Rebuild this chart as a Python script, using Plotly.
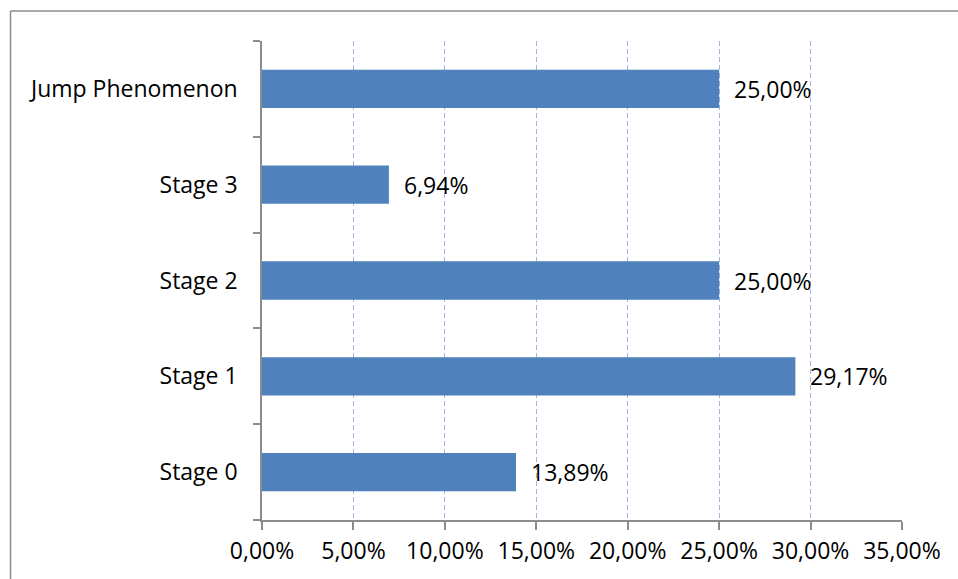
import plotly.graph_objects as go

categories = ["Stage 0", "Stage 1", "Stage 2", "Stage 3", "Jump Phenomenon"]
values = [0.1389, 0.2917, 0.2500, 0.0694, 0.2500]
x_ticks = [0, 0.05, 0.10, 0.15, 0.20, 0.25, 0.30, 0.35]

FONT = "Open Sans, Noto Sans, sans-serif"
FS = 23
labels = [f"{v*100:.2f}".replace(".", ",") + "%" for v in values]

fig = go.Figure()
fig.add_trace(go.Bar(
    x=values, y=categories, orientation="h",
    marker=dict(color="#4f81bd", line=dict(width=0)),
    hoverinfo="skip",
))

for v, c, t in zip(values, categories, labels):
    fig.add_annotation(x=v, y=c, text=t, showarrow=False, xanchor="left",
                       xshift=13, font=dict(family=FONT, size=FS, color="#000000"))

L, R, T, B = 262, 56, 41, 59
W, H = 958, 579
pw, ph = W - L - R, H - T - B

def px(xp):
    return (xp - L) / pw

def py(yp):
    return (H - B - yp) / ph

# outer frame (left and top edges)
fig.add_shape(type="line", xref="paper", yref="paper",
              x0=px(10.5), x1=px(10.5), y0=py(579), y1=py(11),
              line=dict(color="#8c8c8c", width=1.5))
fig.add_shape(type="line", xref="paper", yref="paper",
              x0=px(10.5), x1=px(958), y0=py(11), y1=py(11),
              line=dict(color="#8c8c8c", width=1.5))

fig.update_layout(
    width=W, height=H,
    margin=dict(l=L, r=R, t=T, b=B),
    paper_bgcolor="white", plot_bgcolor="white",
    showlegend=False,
    bargap=0.6,
    separators=",.",
    font=dict(family=FONT, size=FS, color="#000000"),
    xaxis=dict(
        range=[0, 0.35], tickvals=x_ticks, tickformat=".2%",
        showgrid=True, gridcolor="#9db8e2", griddash="5px,3px", gridwidth=1.2,
        showline=True, linecolor="#8c8c8c", linewidth=1.5,
        ticks="outside", ticklen=8, tickcolor="#8c8c8c", tickwidth=1.5,
        zeroline=False, ticklabelstandoff=2,
        tickfont=dict(family=FONT, size=FS, color="#000000"),
    ),
    yaxis=dict(
        showgrid=False, zeroline=False,
        showline=True, linecolor="#8c8c8c", linewidth=1.5,
        ticks="outside", ticklen=7, tickcolor="#8c8c8c", tickwidth=1.5,
        tickson="boundaries", ticklabelstandoff=18,
        tickfont=dict(family=FONT, size=FS, color="#000000"),
    ),
)

fig.write_html("out.html")
